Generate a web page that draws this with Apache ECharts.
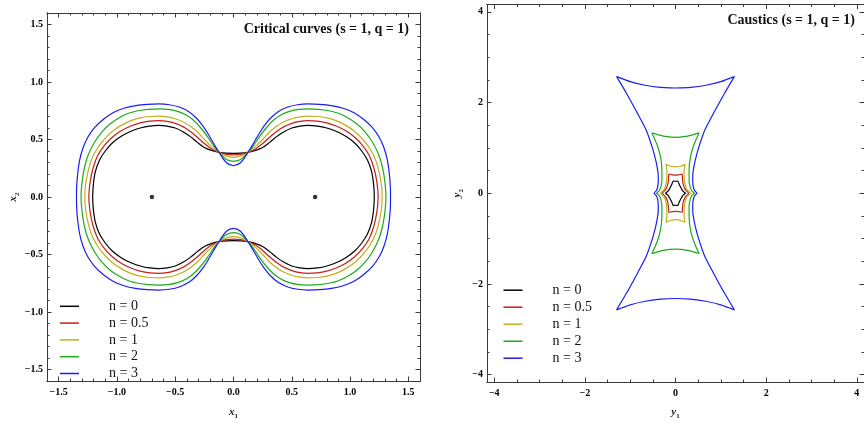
<!DOCTYPE html>
<html>
<head>
<meta charset="utf-8">
<script src="https://cdn.jsdelivr.net/npm/echarts@6/dist/echarts.min.js"></script>
<style>
html, body { margin: 0; padding: 0; background: #fff; }
#chart { width: 864px; height: 425px; }
</style>
</head>
<body>
<div id="chart"></div>
<script>
// 图例名称与颜色
const nNames = ['n = 0', 'n = 0.5', 'n = 1', 'n = 2', 'n = 3'];
const nColors = ['#000000', '#c41e1e', '#c2b01c', '#1faa1f', '#1c1cf5'];

// 坐标轴刻度
const critRange = [-1.6, 1.6];
const critTicks = [-1.5, -1.0, -0.5, 0, 0.5, 1.0, 1.5];
const critTickLabels = ['\u22121.5', '\u22121.0', '\u22120.5', '0.0', '0.5', '1.0', '1.5'];
const causRange = [-4.16, 4.16];
const causTicks = [-4, -2, 0, 2, 4];
const causTickLabels = ['\u22124', '\u22122', '0', '2', '4'];

// 透镜位置
const lensPos = [[-0.70, 0], [0.70, 0]];

// 临界曲线 (第一象限, 从 x1=0 到外侧 x2=0), 其余象限对称
const critN0 = [[0, 0.38], [0.06, 0.381], [0.124, 0.388], [0.19, 0.405], [0.25, 0.43], [0.31, 0.475], [0.37, 0.525], [0.43, 0.566], [0.50, 0.60], [0.57, 0.617], [0.64, 0.623], [0.72, 0.617], [0.80, 0.60], [0.88, 0.572], [0.96, 0.53], [1.04, 0.47], [1.10, 0.40], [1.15, 0.32], [1.185, 0.22], [1.202, 0.11], [1.208, 0]];
const critN05 = [[0, 0.366], [0.06, 0.37], [0.124, 0.388], [0.19, 0.42], [0.25, 0.465], [0.31, 0.52], [0.37, 0.57], [0.43, 0.61], [0.50, 0.64], [0.57, 0.658], [0.64, 0.664], [0.72, 0.66], [0.80, 0.645], [0.88, 0.618], [0.96, 0.578], [1.04, 0.52], [1.11, 0.445], [1.165, 0.36], [1.205, 0.25], [1.23, 0.13], [1.241, 0]];
const critN1 = [[0, 0.344], [0.06, 0.355], [0.124, 0.388], [0.19, 0.44], [0.25, 0.50], [0.31, 0.565], [0.37, 0.615], [0.43, 0.652], [0.50, 0.68], [0.57, 0.697], [0.64, 0.703], [0.72, 0.70], [0.80, 0.688], [0.88, 0.664], [0.96, 0.625], [1.04, 0.57], [1.11, 0.50], [1.17, 0.42], [1.22, 0.32], [1.255, 0.19], [1.272, 0.08], [1.275, 0]];
const critN2 = [[0, 0.31], [0.06, 0.327], [0.124, 0.388], [0.17, 0.445], [0.22, 0.52], [0.28, 0.60], [0.34, 0.665], [0.41, 0.715], [0.48, 0.745], [0.56, 0.762], [0.64, 0.766], [0.73, 0.762], [0.82, 0.75], [0.90, 0.728], [0.98, 0.69], [1.06, 0.635], [1.13, 0.565], [1.19, 0.48], [1.245, 0.37], [1.28, 0.25], [1.30, 0.12], [1.308, 0]];
const critN3 = [[0, 0.272], [0.06, 0.298], [0.124, 0.388], [0.17, 0.465], [0.21, 0.535], [0.26, 0.615], [0.317, 0.685], [0.38, 0.74], [0.46, 0.78], [0.55, 0.802], [0.64, 0.809], [0.74, 0.806], [0.84, 0.795], [0.94, 0.772], [1.03, 0.735], [1.11, 0.68], [1.19, 0.605], [1.25, 0.52], [1.29, 0.43], [1.32, 0.32], [1.338, 0.19], [1.346, 0.08], [1.347, 0]];

// 焦散线 (第一象限, 从 y1=0 顶边经尖点到 y2=0 侧尖点)
const causN0 = [[0, 0.265], [0.05, 0.27], [0.08, 0.2], [0.12, 0.12], [0.16, 0.05], [0.22, 0]];
const causN05 = [[0, 0.40], [0.07, 0.405], [0.145, 0.42], [0.155, 0.3], [0.17, 0.2], [0.21, 0.09], [0.29, 0]];
const causN1 = [[0, 0.58], [0.11, 0.595], [0.21, 0.64], [0.19, 0.5], [0.19, 0.35], [0.21, 0.2], [0.25, 0.08], [0.33, 0]];
const causN2 = [[0, 1.23], [0.27, 1.26], [0.52, 1.33], [0.41, 1.08], [0.33, 0.8], [0.30, 0.5], [0.30, 0.3], [0.32, 0.15], [0.36, 0.05], [0.42, 0]];
const causN3 = [[0, 2.32], [0.33, 2.335], [0.67, 2.38], [1.0, 2.46], [1.30, 2.57], [1.08, 2.2], [0.86, 1.8], [0.65, 1.4], [0.51, 1.0], [0.43, 0.7], [0.385, 0.45], [0.38, 0.3], [0.39, 0.15], [0.42, 0.06], [0.47, 0]];

const critCurves = [critN0, critN05, critN1, critN2, critN3];
const causCurves = [causN0, causN05, causN1, causN2, causN3];

const serif = 'Liberation Serif';
const frameColor = '#3a3a3a';

// 由第一象限拼出闭合曲线
function closeRing(q) {
    let ur = q.map(p => [p[0], p[1]]);
    let lr = q.slice().reverse().map(p => [p[0], -p[1]]);
    let ll = q.map(p => [-p[0], -p[1]]);
    let ul = q.slice().reverse().map(p => [-p[0], p[1]]);
    return ur.concat(lr.slice(1), ll.slice(1), ul.slice(1));
}

function minorValues(range, step) {
    let vals = [];
    let start = Math.ceil(range[0] / step - 1e-9);
    let end = Math.floor(range[1] / step + 1e-9);
    for (let i = start; i <= end; i++) {
        vals.push(Math.round(i * step * 1000) / 1000);
    }
    return vals;
}

// 四边框的主/次刻度轴
function frameAxes(gridIndex, dim, range, ticks, labels, minorStep, name, nameGap) {
    let positions = dim === 'x' ? ['bottom', 'top'] : ['left', 'right'];
    let minors = minorValues(range, minorStep);
    let axes = [];
    positions.forEach(function(pos, k) {
        [true, false].forEach(function(isMajor) {
            let ax = {
                gridIndex: gridIndex,
                type: 'value',
                position: pos,
                min: range[0],
                max: range[1],
                splitLine: { show: false },
                axisLine: { show: true, onZero: false, lineStyle: { color: frameColor, width: 1 } },
                axisTick: {
                    show: true,
                    inside: true,
                    length: isMajor ? 4.5 : 2.5,
                    customValues: isMajor ? ticks : minors,
                    lineStyle: { color: frameColor, width: 1 }
                },
                axisLabel: { show: false }
            };
            if (k === 0 && isMajor) {
                ax.axisLabel = {
                    show: true,
                    customValues: ticks,
                    margin: dim === 'x' ? 6 : 4,
                    color: '#000',
                    fontFamily: serif,
                    fontWeight: 'bold',
                    fontSize: 10,
                    formatter: function(v) {
                        let idx = ticks.findIndex(t => Math.abs(t - v) < 1e-6);
                        return idx >= 0 ? labels[idx] : '';
                    }
                };
                ax.name = '{i|' + name[0] + '}{s|' + name[1] + '}';
                ax.nameLocation = 'middle';
                ax.nameGap = nameGap;
                ax.nameTextStyle = {
                    rich: {
                        i: { fontFamily: serif, fontStyle: 'italic', fontWeight: 'bold', fontSize: 11, lineHeight: 11, verticalAlign: 'top', color: '#222' },
                        s: { fontFamily: serif, fontWeight: 'bold', fontSize: 7, lineHeight: 7, verticalAlign: 'top', padding: [6, 0, 0, 0], color: '#222' }
                    }
                };
            }
            axes.push(ax);
        });
    });
    return axes;
}

let xAxes = frameAxes(0, 'x', critRange, critTicks, critTickLabels, 0.1, ['x', '1'], 26)
    .concat(frameAxes(1, 'x', causRange, causTicks, causTickLabels, 0.5, ['y', '1'], 25));
let yAxes = frameAxes(0, 'y', critRange, critTicks, critTickLabels, 0.1, ['x', '2'], 26)
    .concat(frameAxes(1, 'y', causRange, causTicks, causTickLabels, 0.5, ['y', '2'], 24));

let series = [];
critCurves.forEach(function(q, i) {
    series.push({
        name: nNames[i],
        type: 'line',
        xAxisIndex: 0,
        yAxisIndex: 0,
        data: closeRing(q),
        showSymbol: false,
        smooth: 0.35,
        lineStyle: { color: nColors[i], width: 1.2 },
        itemStyle: { color: nColors[i] }
    });
});
series.push({
    name: 'lens',
    type: 'scatter',
    xAxisIndex: 0,
    yAxisIndex: 0,
    data: lensPos,
    symbolSize: 4.5,
    itemStyle: { color: '#000' }
});
causCurves.forEach(function(q, i) {
    series.push({
        name: nNames[i],
        type: 'line',
        xAxisIndex: 4,
        yAxisIndex: 4,
        data: closeRing(q),
        showSymbol: false,
        smooth: 0.2,
        lineStyle: { color: nColors[i], width: 1.2 },
        itemStyle: { color: nColors[i] }
    });
});

function legendAt(left, top, gap) {
    return {
        data: nNames,
        orient: 'vertical',
        left: left,
        top: top,
        icon: 'rect',
        itemWidth: 19,
        itemHeight: 1.5,
        itemGap: gap,
        selectedMode: false,
        padding: 0,
        textStyle: { fontFamily: serif, fontSize: 14, lineHeight: 14, color: '#111', padding: [0, 0, 0, 25] }
    };
}

let myChart = echarts.init(document.getElementById('chart'), null, { renderer: 'canvas' });
let option = {
    animation: false,
    backgroundColor: '#fff',
    title: [
        {
            text: 'Critical curves (s = 1, q = 1)',
            right: 455,
            top: 22.5,
            padding: 0,
            textStyle: { fontFamily: serif, fontWeight: 'bold', fontSize: 14, color: '#111' }
        },
        {
            text: 'Caustics (s = 1, q = 1)',
            right: 9,
            top: 13.5,
            padding: 0,
            textStyle: { fontFamily: serif, fontWeight: 'bold', fontSize: 14, color: '#111' }
        }
    ],
    legend: [legendAt(60, 299.3, 2.8), legendAt(503.5, 283.2, 3.0)],
    grid: [
        { left: 47, top: 13, width: 373, height: 373 },
        { left: 487, top: 4.5, width: 379, height: 380 }
    ],
    xAxis: xAxes,
    yAxis: yAxes,
    series: series
};
myChart.setOption(option);
</script>
</body>
</html>
